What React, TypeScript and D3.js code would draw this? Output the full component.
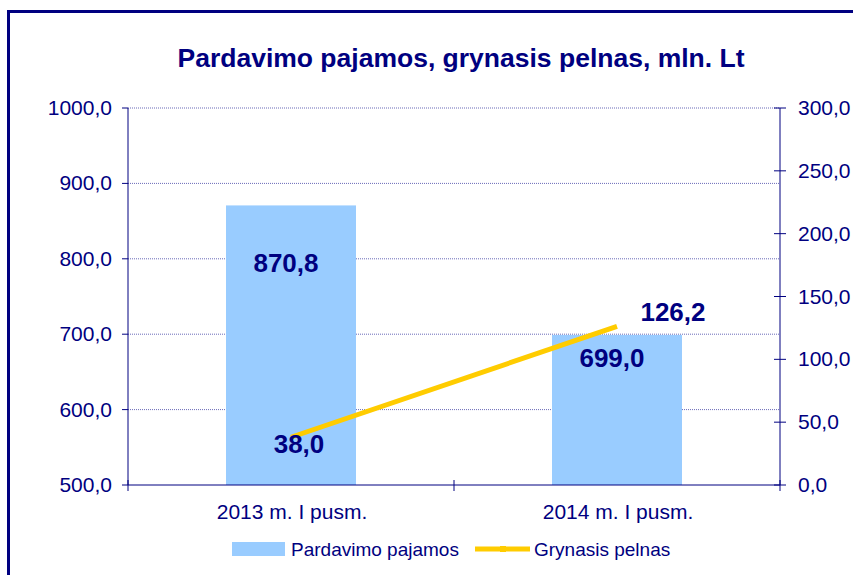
import React from 'react'
import * as d3 from 'd3'

const categories = ['2013 m. I pusm.', '2014 m. I pusm.']
const pajamos = [870.8, 699.0]
const pelnas = [38.0, 126.2]
const leftTicks = [500, 600, 700, 800, 900, 1000]
const rightTicks = [0, 50, 100, 150, 200, 250, 300]

const navy = '#000080'
const fmt = (v: number) => v.toFixed(1).replace('.', ',')

const App = () => {
	const width = 853,
		height = 575
	const plot = { left: 128, right: 780, top: 108, bottom: 485 }

	// category band (ticks sit on the band edges)
	const xc = d3.scaleBand().domain(categories).range([plot.left, plot.right])
	const yL = d3.scaleLinear().domain([500, 1000]).range([plot.bottom, plot.top])
	const yR = d3.scaleLinear().domain([0, 300]).range([plot.bottom, plot.top])

	const barW = 130
	const cx = (c: string) => xc(c)! + xc.bandwidth() / 2

	const line = d3
		.line<number>()
		.x((_, i) => cx(categories[i]))
		.y((d) => yR(d))

	const font = 'Arial, "Liberation Sans", sans-serif'
	// label offsets for the line points
	const pelnasOffset = [
		[8, 16],
		[56, -5],
	]

	return (
		<svg
			width={width}
			height={height}
			style={{ position: 'absolute', left: 0, top: 0, background: '#fff' }}
			fontFamily={font}
		>
			<rect x={8.5} y={11.5} width={900} height={600} fill="#fff" stroke={navy} strokeWidth={3} />
			<text x={461} y={67} textAnchor="middle" fontSize={26.5} fontWeight="bold" fill={navy}>
				Pardavimo pajamos, grynasis pelnas, mln. Lt
			</text>

			{leftTicks.map((t) => (
				<g key={'l' + t}>
					{t > 500 && (
						<line
							x1={plot.left}
							x2={plot.right}
							y1={yL(t)}
							y2={yL(t)}
							stroke="#6a6ab8"
							strokeWidth={1}
							strokeDasharray="1,1"
						/>
					)}
					<line x1={plot.left - 6} x2={plot.left} y1={yL(t)} y2={yL(t)} stroke={navy} />
					<text x={112} y={yL(t) + 7} textAnchor="end" fontSize={21} fill={navy}>
						{fmt(t)}
					</text>
				</g>
			))}

			{categories.map((c, i) => (
				<rect
					key={c}
					x={cx(c) - barW / 2}
					y={yL(pajamos[i])}
					width={barW}
					height={plot.bottom - yL(pajamos[i])}
					fill="#99ccff"
				/>
			))}

			<line x1={plot.left} x2={plot.left} y1={plot.top} y2={plot.bottom} stroke={navy} />
			<line x1={plot.right} x2={plot.right} y1={plot.top} y2={plot.bottom} stroke={navy} />
			<line x1={plot.left} x2={plot.right} y1={plot.bottom} y2={plot.bottom} stroke={navy} />

			{rightTicks.map((t) => (
				<g key={'r' + t}>
					<line x1={plot.right - 6} x2={plot.right + 6} y1={yR(t)} y2={yR(t)} stroke={navy} />
					<text x={798} y={yR(t) + 7} fontSize={21} fill={navy}>
						{fmt(t)}
					</text>
				</g>
			))}

			{[...categories.map((c) => xc(c)!), plot.right].map((t, i) => (
				<line key={'x' + i} x1={t} x2={t} y1={plot.bottom - 5} y2={plot.bottom + 6} stroke={navy} />
			))}
			{categories.map((c) => (
				<text key={'c' + c} x={cx(c) + 1} y={519} textAnchor="middle" fontSize={21} fill={navy}>
					{c}
				</text>
			))}

			<path d={line(pelnas)!} fill="none" stroke="#ffcc00" strokeWidth={5} />

			{categories.map((c, i) => (
				<text
					key={'bl' + c}
					x={cx(c) - 5}
					y={yL(pajamos[i]) + (i === 0 ? 67 : 32)}
					textAnchor="middle"
					fontSize={26}
					fontWeight="bold"
					fill={navy}
				>
					{fmt(pajamos[i])}
				</text>
			))}
			{categories.map((c, i) => (
				<text
					key={'pl' + c}
					x={cx(c) + pelnasOffset[i][0]}
					y={yR(pelnas[i]) + pelnasOffset[i][1]}
					textAnchor="middle"
					fontSize={26}
					fontWeight="bold"
					fill={navy}
				>
					{fmt(pelnas[i])}
				</text>
			))}

			<g>
				<rect x={232} y={542} width={53} height={14} fill="#99ccff" />
				<text x={291} y={556} fontSize={19} fill={navy}>
					Pardavimo pajamos
				</text>
				<line x1={475} x2={530} y1={549} y2={549} stroke="#ffcc00" strokeWidth={5} />
				<rect x={500} y={546} width={6} height={6} fill="#ffcc00" />
				<text x={534} y={556} fontSize={19} fill={navy}>
					Grynasis pelnas
				</text>
			</g>
		</svg>
	)
}

export default App
